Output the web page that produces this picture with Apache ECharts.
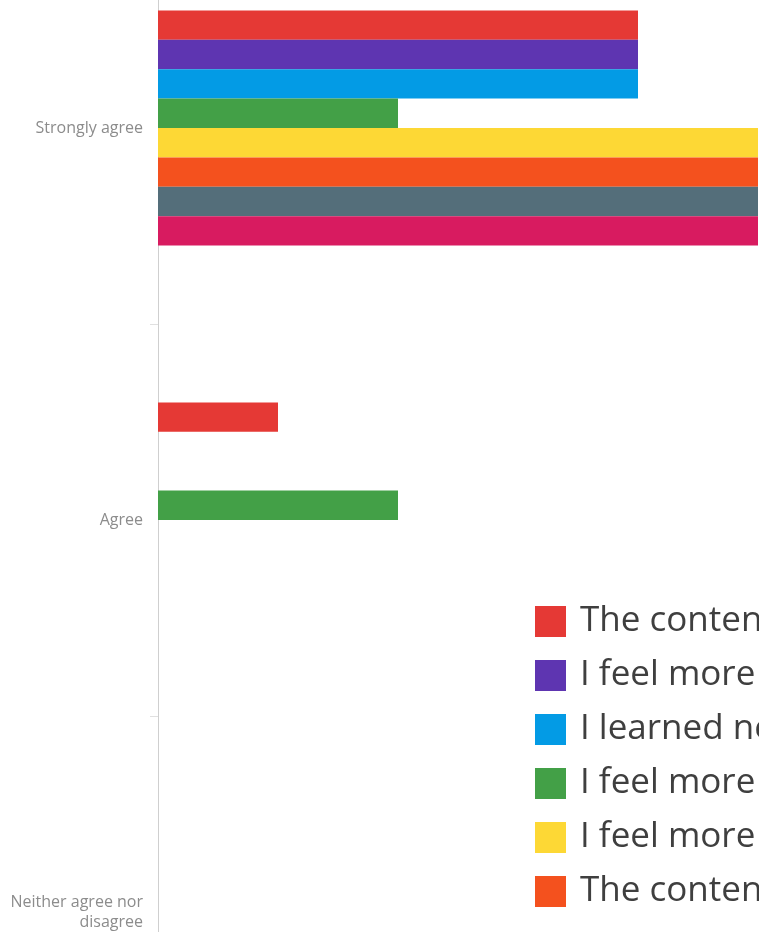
<!DOCTYPE html>
<html>
<head>
<meta charset="utf-8">
<script src="https://cdn.jsdelivr.net/npm/echarts@6/dist/echarts.min.js"></script>
<style>
  html, body { margin: 0; padding: 0; background: #ffffff; }
  #chart { width: 759px; height: 932px; }
</style>
</head>
<body>
<div id="chart"></div>
<script>
const categories = ['Strongly agree', 'Agree', 'Neither agree nor\ndisagree'];

const statements = [
  'The content was relevant to my work',
  'I feel more confident in my abilities',
  'I learned new skills I can apply',
  'I feel more connected to my peers',
  'I feel more capable of handling challenges',
  'The content was well organized',
  'The presenters were knowledgeable',
  'I would recommend this to others'
];

const colors = ['#E53935', '#5E35B1', '#039BE5', '#43A047', '#FDD835', '#F4511E', '#546E7A', '#D81B60'];

const valuesStatement1 = [80, 20, 0];
const valuesStatement2 = [80, 0, 0];
const valuesStatement3 = [80, 0, 0];
const valuesStatement4 = [40, 40, 0];
const valuesStatement5 = [100, 0, 0];
const valuesStatement6 = [100, 0, 0];
const valuesStatement7 = [100, 0, 0];
const valuesStatement8 = [100, 0, 0];

const allValues = [valuesStatement1, valuesStatement2, valuesStatement3, valuesStatement4,
                   valuesStatement5, valuesStatement6, valuesStatement7, valuesStatement8];

const chart = echarts.init(document.getElementById('chart'), null, { renderer: 'canvas' });

const series = statements.map((name, i) => ({
  name: name,
  type: 'bar',
  data: allValues[i],
  itemStyle: { color: colors[i] },
  barGap: '0%',
  barCategoryGap: '40%',
  animation: false
}));

chart.setOption({
  animation: false,
  backgroundColor: '#ffffff',
  grid: { left: 158, top: -68, width: 600, height: 1176, containLabel: false, outerBoundsMode: 'none' },
  xAxis: {
    type: 'value', min: 0, max: 100, show: false,
    splitLine: { show: false }
  },
  yAxis: {
    type: 'category',
    data: categories,
    inverse: true,
    axisLine: { show: true, lineStyle: { color: '#cfcfcf', width: 1 } },
    axisTick: { show: true, length: 8, lineStyle: { color: '#e0e0e0' } },
    axisLabel: {
      margin: 15,
      color: '#8c8c8c',
      fontFamily: 'Open Sans',
      fontSize: 16,
      lineHeight: 20,
      align: 'right'
    },
    splitLine: { show: false }
  },
  legend: {
    orient: 'vertical',
    left: 535,
    top: 604,
    padding: 0,
    itemWidth: 31,
    itemHeight: 31,
    itemGap: 19,
    icon: 'rect',
    textStyle: {
      fontFamily: 'Open Sans',
      fontSize: 35,
      lineHeight: 31,
      color: '#3f3f3f',
      padding: [0, 0, 0, 9]
    },
    data: statements
  },
  series: series
});
</script>
</body>
</html>
